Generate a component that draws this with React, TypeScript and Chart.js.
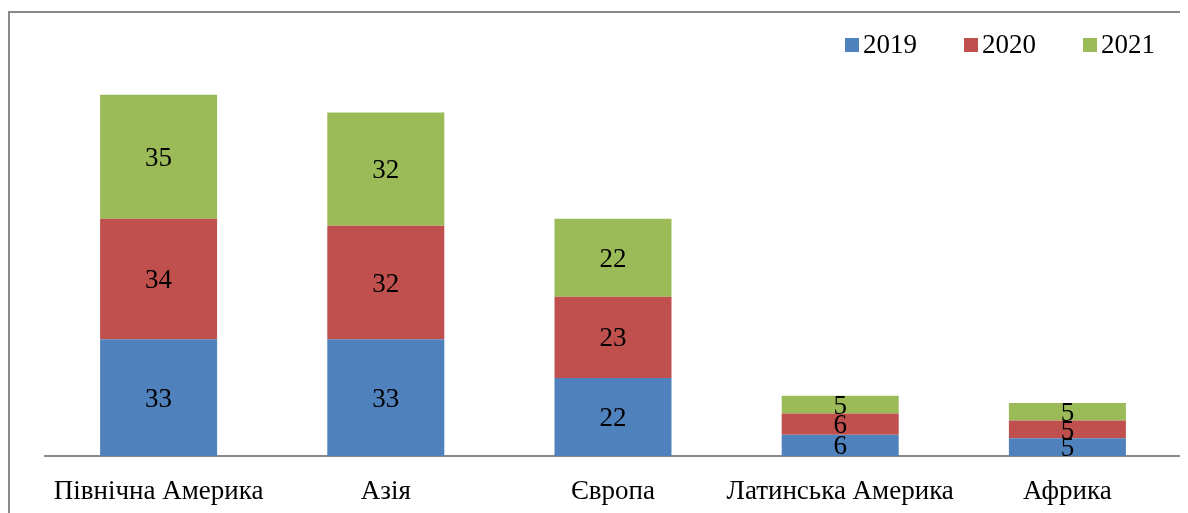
import { useEffect, useRef } from "react";
import { Chart, registerables } from "chart.js";

Chart.register(...registerables);

// Regions and yearly values shown as stacked segments
const regions = ["Північна Америка", "Азія", "Європа", "Латинська Америка", "Африка"];
const years = ["2019", "2020", "2021"];
const values2019 = [33, 33, 22, 6, 5];
const values2020 = [34, 32, 23, 6, 5];
const values2021 = [35, 32, 22, 5, 5];

const seriesColors = ["#4F81BD", "#C0504D", "#9BBB59"];
const FONT = '"Liberation Serif", "Times New Roman", serif';
const FONT_SIZE = 27;

// Writes each segment's value in the middle of the segment
const segmentLabels = {
  id: "segmentLabels",
  afterDatasetsDraw(chart: any) {
    const ctx = chart.ctx;
    ctx.save();
    ctx.font = `${FONT_SIZE}px ${FONT}`;
    ctx.fillStyle = "#000";
    ctx.textAlign = "center";
    ctx.textBaseline = "middle";
    chart.data.datasets.forEach((ds: any, i: number) => {
      const meta = chart.getDatasetMeta(i);
      meta.data.forEach((el: any, j: number) => {
        const { x, y, base } = el.getProps(["x", "y", "base"], true);
        ctx.fillText(String(ds.data[j]), x, (y + base) / 2 + 2);
      });
    });
    ctx.restore();
  },
};

// Compact legend in the top-right corner: small square, tight gap, label
const cornerLegend = {
  id: "cornerLegend",
  afterDraw(chart: any) {
    const ctx = chart.ctx;
    const area = chart.chartArea;
    ctx.save();
    ctx.font = `${FONT_SIZE}px ${FONT}`;
    ctx.textBaseline = "middle";
    ctx.textAlign = "left";
    const step = 119;
    const box = 14;
    let x = area.right - 336;
    chart.data.datasets.forEach((ds: any) => {
      ctx.fillStyle = ds.backgroundColor;
      ctx.fillRect(x, 30, box, box);
      ctx.fillStyle = "#000";
      ctx.fillText(ds.label, x + box + 4, 38);
      x += step;
    });
    ctx.restore();
  },
};

export default function App() {
  const canvasRef = useRef<HTMLCanvasElement | null>(null);

  useEffect(() => {
    if (!canvasRef.current) return;
    const seriesValues = [values2019, values2020, values2021];
    const chart = new Chart(canvasRef.current, {
      type: "bar",
      data: {
        labels: regions,
        datasets: years.map((yr, i) => ({
          label: yr,
          data: seriesValues[i],
          backgroundColor: seriesColors[i],
          borderWidth: 0,
          categoryPercentage: 1,
          barPercentage: 0.515,
        })),
      },
      options: {
        responsive: false,
        animation: false,
        layout: { padding: { left: 37, right: 7, top: 23, bottom: 7 } },
        plugins: {
          legend: { display: false },
          tooltip: { enabled: false },
        },
        scales: {
          x: {
            stacked: true,
            grid: { display: false, drawTicks: false },
            border: { display: true, color: "#898989", width: 2 },
            ticks: {
              color: "#000",
              font: { family: FONT, size: FONT_SIZE },
              padding: 20,
              maxRotation: 0,
              autoSkip: false,
            },
            afterFit: (s: any) => {
              s.height = 50;
            },
          },
          y: {
            stacked: true,
            display: false,
            min: 0,
            max: 120,
          },
        },
      },
      plugins: [segmentLabels, cornerLegend],
    });
    return () => chart.destroy();
  }, []);

  return (
    <div style={{ position: "relative", width: 1180, height: 505, overflow: "hidden" }}>
      <div
        style={{
          position: "absolute",
          left: 0,
          top: 3,
          width: 1400,
          height: 700,
          borderTop: "2px solid #8a8a8a",
          borderLeft: "2px solid #8a8a8a",
        }}
      />
      <canvas
        ref={canvasRef}
        width={1180}
        height={505}
        style={{ position: "absolute", left: 0, top: 0, width: 1180, height: 505 }}
      />
    </div>
  );
}
